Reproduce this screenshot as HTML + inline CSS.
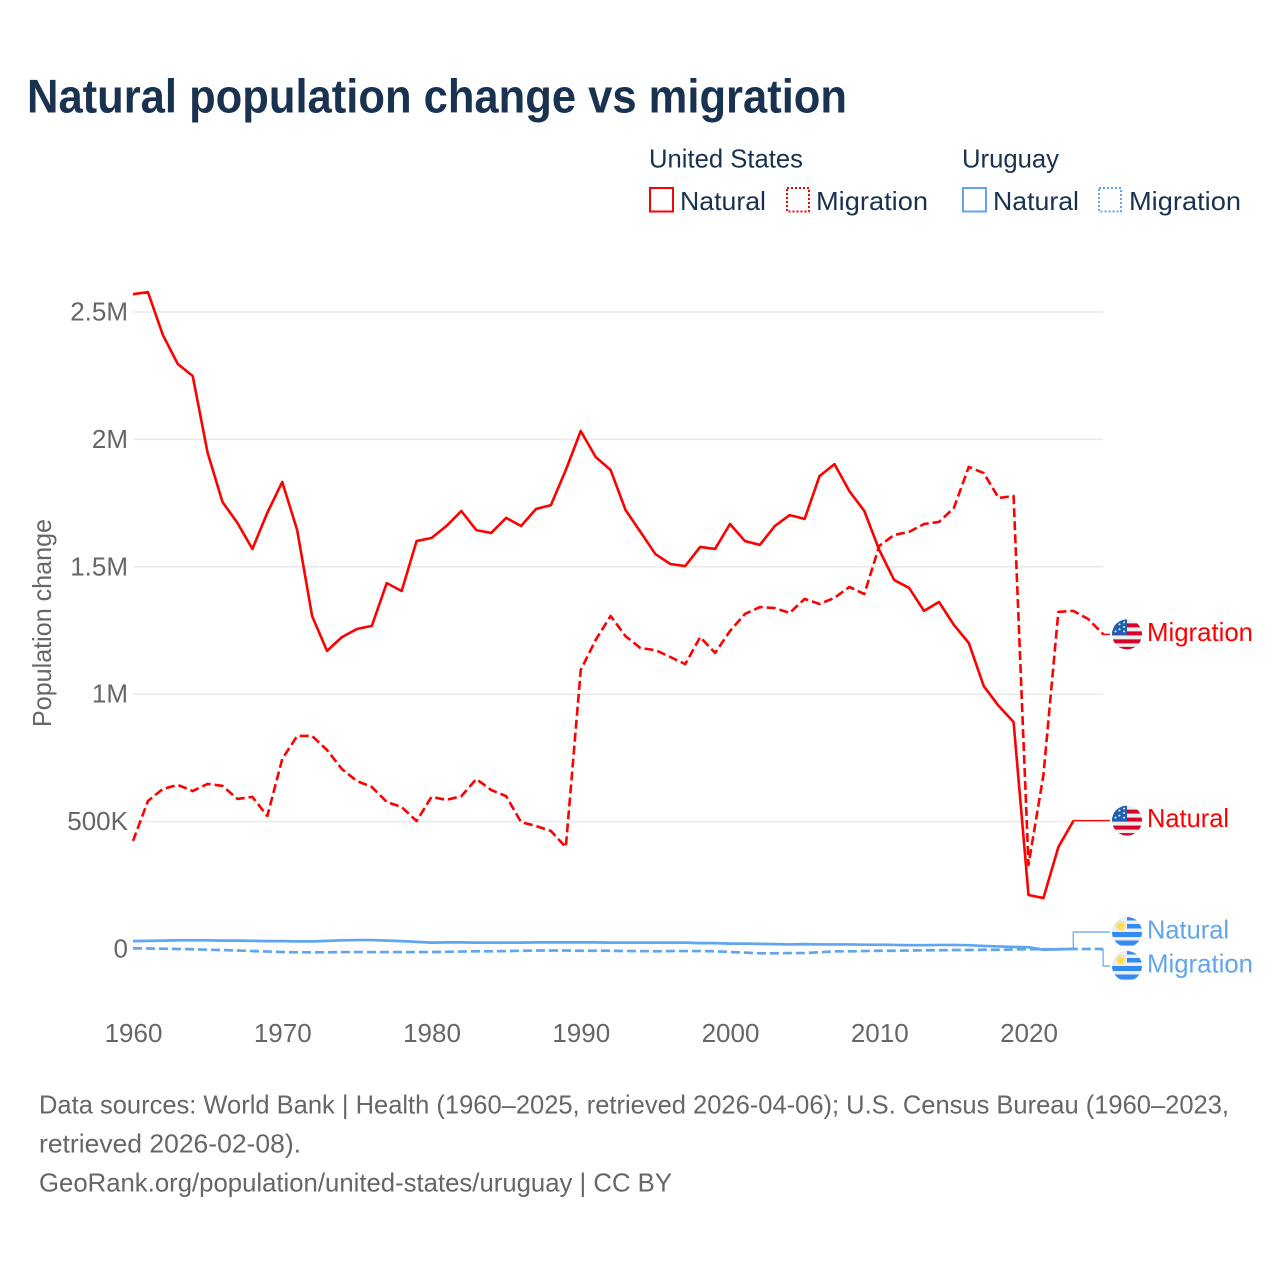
<!DOCTYPE html>
<html lang="en">
<head>
<meta charset="utf-8">
<title>Natural population change vs migration</title>
<style>
html,body{margin:0;padding:0;background:#fff;}
svg{display:block;font-family:"Liberation Sans",sans-serif;}
</style>
</head>
<body>
<svg id="chart" xmlns="http://www.w3.org/2000/svg" width="1280" height="1280" viewBox="0 0 1280 1280">
  <defs>
    <clipPath id="flag-clip"><circle cx="0" cy="0" r="15"/></clipPath>
    <g id="flag-us" clip-path="url(#flag-clip)">
      <rect x="-15" y="-15" width="30" height="30" fill="#eeeeee"/>
      <rect x="-15" y="-11" width="30" height="4" fill="#d80027"/>
      <rect x="-15" y="-3" width="30" height="4" fill="#d80027"/>
      <rect x="-15" y="5" width="30" height="4" fill="#d80027"/>
      <rect x="-15" y="12.5" width="30" height="3" fill="#d80027"/>
      <rect x="-15" y="-15" width="15" height="15.5" fill="#1f5fb0"/>
      <g fill="#eeeeee">
        <circle cx="-3" cy="-12" r="1"/><circle cx="-3" cy="-7.5" r="1"/><circle cx="-3" cy="-3" r="1"/>
        <circle cx="-7.5" cy="-10" r="1"/><circle cx="-7.5" cy="-5" r="1"/><circle cx="-11.5" cy="-3" r="1"/>
      </g>
    </g>
    <g id="flag-uy" clip-path="url(#flag-clip)">
      <rect x="-15" y="-15" width="30" height="30" fill="#eeeeee"/>
      <rect x="0" y="-15" width="15" height="3.5" fill="#338af3"/>
      <rect x="0" y="-8" width="15" height="4.5" fill="#338af3"/>
      <rect x="-15" y="0" width="30" height="5" fill="#338af3"/>
      <rect x="-15" y="8.5" width="30" height="5" fill="#338af3"/>
      <circle cx="-6.5" cy="-6" r="3.4" fill="#ffda44"/>
      <circle cx="-6.5" cy="-6" r="4.6" fill="none" stroke="#ffda44" stroke-width="1.2" stroke-dasharray="1.2 1.2"/>
    </g>
  </defs>

  <rect x="0" y="0" width="1280" height="1280" fill="#ffffff"/>

  <text x="27" y="112.5" font-size="47" font-weight="700" fill="#18324f" textLength="820" lengthAdjust="spacingAndGlyphs">Natural population change vs migration</text>

  <g font-size="26" fill="#18324f">
    <text x="649" y="167.5" textLength="154" lengthAdjust="spacingAndGlyphs">United States</text>
    <text x="962" y="167.5" textLength="97" lengthAdjust="spacingAndGlyphs">Uruguay</text>

    <rect x="650" y="188" width="23" height="23.5" fill="none" stroke="#ff0000" stroke-width="2"/>
    <text x="680" y="210" textLength="86" lengthAdjust="spacingAndGlyphs">Natural</text>
    <rect x="787" y="188" width="22" height="23.5" fill="none" stroke="#ff0000" stroke-width="2" stroke-dasharray="2 2"/>
    <text x="816" y="210" textLength="112" lengthAdjust="spacingAndGlyphs">Migration</text>

    <rect x="963" y="188" width="23" height="23.5" fill="none" stroke="#60a5ee" stroke-width="2"/>
    <text x="993" y="210" textLength="86" lengthAdjust="spacingAndGlyphs">Natural</text>
    <rect x="1099" y="188" width="22" height="23.5" fill="none" stroke="#60a5ee" stroke-width="2" stroke-dasharray="2 2"/>
    <text x="1129" y="210" textLength="112" lengthAdjust="spacingAndGlyphs">Migration</text>
  </g>

  <g id="grid"></g>
  <g id="y-ticks" font-size="26" fill="#666666" text-anchor="end"></g>
  <g id="x-ticks" font-size="26" fill="#666666" text-anchor="middle"></g>

  <text transform="translate(51,623) rotate(-90)" font-size="26" fill="#666666" text-anchor="middle" textLength="208" lengthAdjust="spacingAndGlyphs">Population change</text>

  <g id="series"></g>
  <g id="labels"></g>

  <g font-size="26" fill="#666666">
    <text x="39" y="1113.5" textLength="1190" lengthAdjust="spacingAndGlyphs">Data sources: World Bank | Health (1960–2025, retrieved 2026-04-06); U.S. Census Bureau (1960–2023,</text>
    <text x="39" y="1152.5" textLength="262" lengthAdjust="spacingAndGlyphs">retrieved 2026-02-08).</text>
    <text x="39" y="1191.5" textLength="633" lengthAdjust="spacingAndGlyphs">GeoRank.org/population/united-states/uruguay | CC BY</text>
  </g>
</svg>

<script>
const firstYear = 1960;
const yTickValues = [0, 500, 1000, 1500, 2000, 2500];
const yTickLabels = ["0", "500K", "1M", "1.5M", "2M", "2.5M"];
const xTickYears = [1960, 1970, 1980, 1990, 2000, 2010, 2020];

// Values in thousands of people, one per year from 1960.
const usNatural = [2570,2578,2410,2296,2249,1947,1754,1672,1570,1712,1833,1644,1307,1170,1224,1256,1268,1436,1405,1601,1613,1660,1719,1644,1633,1692,1660,1727,1742,1880,2033,1931,1880,1723,1637,1550,1511,1503,1578,1570,1668,1601,1586,1660,1703,1688,1856,1903,1797,1719,1566,1448,1417,1327,1362,1272,1201,1032,954,891,212,200,400,502];
const usMigration = [424,581,628,644,620,648,640,589,597,522,746,836,836,781,706,659,636,577,557,502,597,585,600,667,624,600,498,483,463,400,1095,1213,1307,1228,1181,1173,1146,1118,1224,1162,1248,1315,1342,1338,1319,1374,1354,1378,1421,1393,1582,1625,1637,1668,1676,1731,1892,1868,1770,1778,330,683,1323,1327,1295,1236];
const uyNatural = [31,32,33,34,34,34,33,33,32,31,31,30,30,32,34,35,35,33,31,28,25,26,26,25,25,25,25,26,26,26,26,26,25,25,25,25,25,25,23,23,21,21,20,19,18,19,18,18,18,17,17,16,15,15,16,16,15,12,10,8,7,-3,-1,0];
const uyMigration = [3,2,1,0,-1,-3,-4,-6,-8,-10,-12,-13,-13,-13,-12,-12,-12,-12,-12,-12,-12,-11,-10,-9,-9,-8,-7,-6,-6,-6,-7,-7,-7,-8,-8,-9,-8,-8,-8,-9,-12,-14,-17,-17,-16,-16,-13,-9,-9,-8,-7,-7,-6,-5,-5,-4,-4,-3,-3,-2,-1,-1,-1,0,0,0];

const NS = "http://www.w3.org/2000/svg";
const RED = "#ff0000";
const BLUE = "#60a5ee";

function xScale(year) { return 133 + (year - firstYear) * 14.925; }
function yScale(v) { return 949 - v * 0.2548; }

function make(tag, attrs, parent) {
  const el = document.createElementNS(NS, tag);
  for (const k in attrs) el.setAttribute(k, attrs[k]);
  parent.appendChild(el);
  return el;
}

const gridG = document.getElementById("grid");
const yG = document.getElementById("y-ticks");
const xG = document.getElementById("x-ticks");
const seriesG = document.getElementById("series");
const labelsG = document.getElementById("labels");

yTickValues.forEach(function (v, i) {
  if (v !== 0) {
    const line = make("line", { x1: 133, x2: 1103, y1: yScale(v), y2: yScale(v), stroke: "#e9e9e9", "stroke-width": 1.5 }, gridG);
    
    
  }
  const t = make("text", { x: 128, y: yScale(v) + 8.5 }, yG);
  
  
  t.textContent = yTickLabels[i];
});

xTickYears.forEach(function (yr) {
  const t = make("text", { x: xScale(yr) + 0.5, y: 1042 }, xG);
  
  
  t.textContent = String(yr);
});

function pointsOf(values) {
  return values.map(function (v, i) { return xScale(firstYear + i) + "," + yScale(v); }).join(" ");
}

function drawLine(values, color, dashed, width) {
  const attrs = { points: pointsOf(values), fill: "none", stroke: color, "stroke-width": width, "stroke-linejoin": "round" };
  if (dashed) attrs["stroke-dasharray"] = "9 4";
  return make("polyline", attrs, seriesG);
}

const lineUyN = drawLine(uyNatural, BLUE, false, 2.7);



const lineUyM = drawLine(uyMigration, BLUE, true, 2.7);



const lineUsN = drawLine(usNatural, RED, false, 2.6);



const lineUsM = drawLine(usMigration, RED, true, 2.6);



function lastX(values) { return xScale(firstYear + values.length - 1); }
function lastY(values) { return yScale(values[values.length - 1]); }

// Draws the thin leader, flag and text label; labelY is where the label sits.
function endLabel(values, labelY, color, flagId, text) {
  const g = make("g", {}, labelsG);
  const x0 = lastX(values), y0 = lastY(values);
  make("polyline", { points: x0 + "," + y0 + " " + x0 + "," + labelY + " 1110," + labelY, fill: "none", stroke: color, "stroke-width": 1.4, opacity: color === BLUE ? 0.85 : 1 }, g);
  make("use", { href: "#" + flagId, transform: "translate(1127," + labelY + ")" }, g);
  const t = make("text", { x: 1147, y: labelY + 6.5, "font-size": 26, fill: color, textLength: text === "Natural" ? 82 : 106, lengthAdjust: "spacingAndGlyphs" }, g);
  t.textContent = text;
  return g;
}

const uyMid = (lastY(uyNatural) + lastY(uyMigration)) / 2;

const labelUsM = endLabel(usMigration, lastY(usMigration) + 0.3, RED, "flag-us", "Migration");



const labelUsN = endLabel(usNatural, lastY(usNatural) - 0.5, RED, "flag-us", "Natural");



const labelUyN = endLabel(uyNatural, uyMid - 17, BLUE, "flag-uy", "Natural");



const labelUyM = endLabel(uyMigration, uyMid + 17, BLUE, "flag-uy", "Migration");


</script>
</body>
</html>
